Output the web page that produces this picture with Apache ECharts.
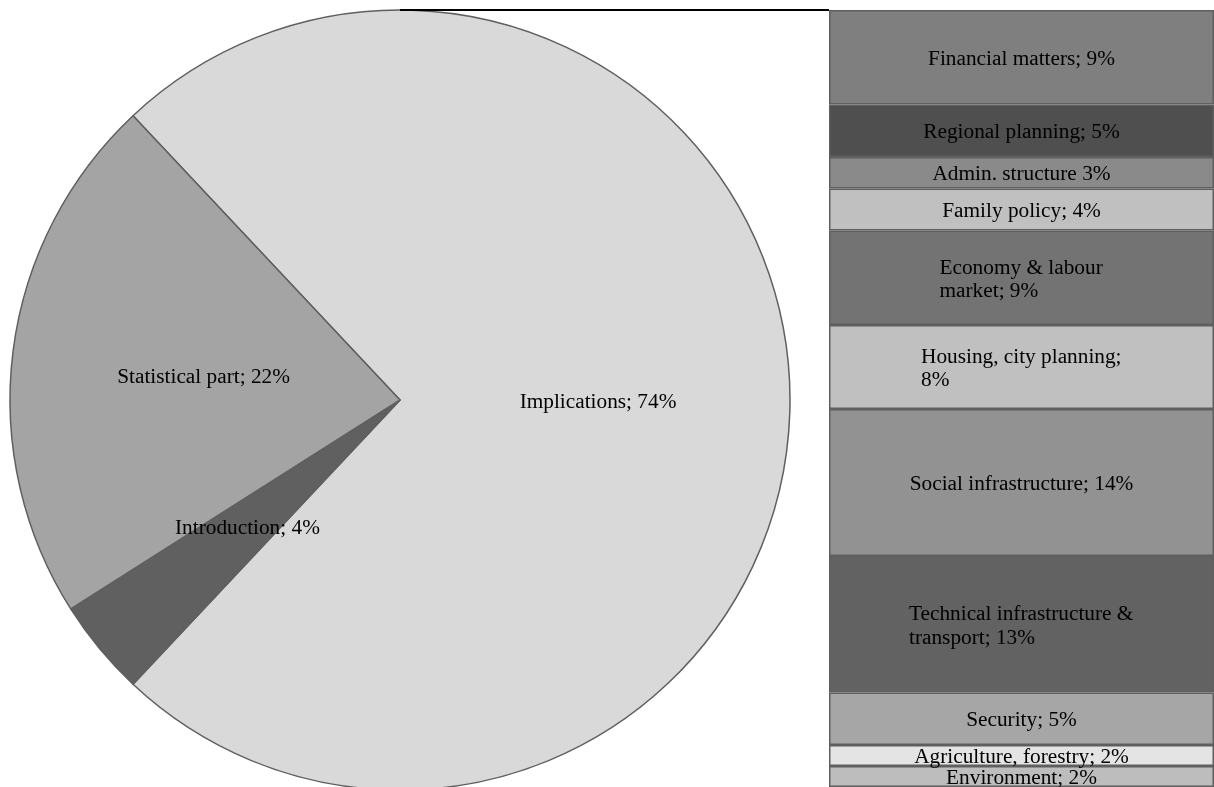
<!DOCTYPE html>
<html>
<head>
<meta charset="utf-8">
<script src="https://cdn.jsdelivr.net/npm/echarts@6/dist/echarts.min.js"></script>
<style>
  html, body { margin: 0; padding: 0; background: #ffffff; }
  #chart { width: 1214px; height: 787px; }
</style>
</head>
<body>
<div id="chart"></div>
<script>
// Report structure: main parts of the report (pie)
const pieNames  = ['Implications', 'Introduction', 'Statistical part'];
const pieValues = [74, 4, 22];
const pieColors = ['#d9d9d9', '#606060', '#a4a4a4'];

// Breakdown of "Implications" by topic (stacked bar, top to bottom)
const topicNames = [
  'Financial matters', 'Regional planning', 'Admin. structure', 'Family policy',
  'Economy & labour market', 'Housing, city planning', 'Social infrastructure',
  'Technical infrastructure & transport', 'Security', 'Agriculture, forestry', 'Environment'
];
const topicValues = [9, 5, 3, 4, 9, 8, 14, 13, 5, 2, 2];
// Label text as printed in each band ("\n" marks a line break)
const topicLabels = [
  'Financial matters; 9%', 'Regional planning; 5%', 'Admin. structure 3%', 'Family policy; 4%',
  'Economy & labour\nmarket; 9%', 'Housing, city planning;\n8%', 'Social infrastructure; 14%',
  'Technical infrastructure &\ntransport; 13%', 'Security; 5%', 'Agriculture, forestry; 2%', 'Environment; 2%'
];
const topicColors = [
  '#7f7f7f', '#4f4f4f', '#8a8a8a', '#c0c0c0', '#737373', '#c0c0c0',
  '#929292', '#626262', '#a6a6a6', '#e4e4e4', '#bdbdbd'
];

// Layout
const PIE_CX = 400, PIE_CY = 400, PIE_R = 390;
const BAR_LEFT = 829, BAR_TOP = 10, BAR_W = 385, BAR_H = 780;
const FONT = '"Liberation Serif", "Times New Roman", serif';
const FONT_SIZE = 21.3;
const LINE_H = 23.5;
const LABEL_OFFSET = [0, 2];
const BORDER = '#5f5f5f';

// Multi-line labels: lines left-aligned inside a block that is centred in the band
const measureCtx = document.createElement('canvas').getContext('2d');
measureCtx.font = FONT_SIZE + 'px "Liberation Serif"';
function bandLabel(text) {
  const lines = text.split('\n');
  if (lines.length === 1) return { formatter: text, rich: {} };
  const w = Math.ceil(Math.max(...lines.map(l => measureCtx.measureText(l).width)));
  return {
    formatter: lines.map(l => '{l|' + l + '}').join('\n'),
    rich: { l: { width: w, align: 'left', fontFamily: FONT, fontSize: FONT_SIZE, color: '#000', lineHeight: LINE_H } }
  };
}

const barTotal = topicValues.reduce((a, b) => a + b, 0);

const barSeries = topicNames.map((name, i) => {
  const lab = bandLabel(topicLabels[i]);
  return {
    type: 'bar',
    name: name,
    stack: 'topics',
    silent: true,
    barWidth: '100%',
    barCategoryGap: 0,
    data: [topicValues[i]],
    itemStyle: { color: topicColors[i], borderColor: BORDER, borderWidth: 1.5 },
    label: {
      show: true,
      position: 'inside',
      offset: LABEL_OFFSET,
      formatter: lab.formatter,
      rich: lab.rich,
      fontFamily: FONT,
      fontSize: FONT_SIZE,
      lineHeight: LINE_H,
      color: '#000'
    }
  };
});

const chart = echarts.init(document.getElementById('chart'), null, { renderer: 'canvas' });
chart.setOption({
  animation: false,
  backgroundColor: '#ffffff',
  grid: { left: BAR_LEFT, top: BAR_TOP, width: BAR_W, height: BAR_H, containLabel: false },
  xAxis: { type: 'category', data: ['Implications'], show: false },
  yAxis: { type: 'value', inverse: true, min: 0, max: barTotal, show: false },
  graphic: [
    // connector lines from the "Implications" slice to the bar
    { type: 'line', z: 10, silent: true,
      shape: { x1: PIE_CX, y1: PIE_CY - PIE_R, x2: BAR_LEFT, y2: BAR_TOP },
      style: { stroke: '#000', lineWidth: 2 } },
    { type: 'line', z: 10, silent: true,
      shape: { x1: PIE_CX, y1: PIE_CY + PIE_R, x2: BAR_LEFT, y2: BAR_TOP + BAR_H },
      style: { stroke: '#000', lineWidth: 2 } }
  ],
  series: [
    {
      type: 'pie',
      silent: true,
      center: [PIE_CX, PIE_CY],
      radius: PIE_R,
      // centre the "Implications" slice on the right-hand side
      startAngle: pieValues[0] / 100 * 360 / 2,
      clockwise: true,
      avoidLabelOverlap: false,
      data: pieNames.map((n, i) => ({ name: n, value: pieValues[i], itemStyle: { color: pieColors[i] } })),
      itemStyle: { borderColor: BORDER, borderWidth: 1.5 },
      label: {
        show: true,
        position: 'inside',
        offset: LABEL_OFFSET,
        formatter: p => p.name + '; ' + p.value + '%',
        fontFamily: FONT,
        fontSize: FONT_SIZE,
        color: '#000'
      },
      labelLine: { show: false }
    },
    ...barSeries
  ]
});
</script>
</body>
</html>
